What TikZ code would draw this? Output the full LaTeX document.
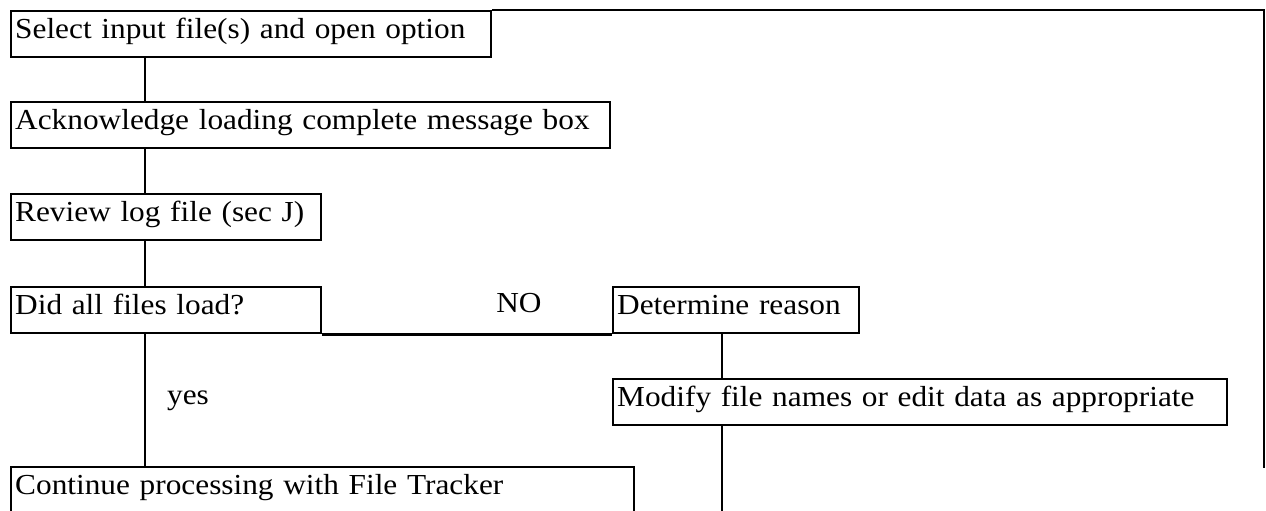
\documentclass[tikz,border=0pt]{standalone}
\usepackage{fontspec}
\setmainfont[FakeStretch=1.08]{Liberation Serif}
\begin{document}
\begin{tikzpicture}[x=0.5pt,y=-0.5pt,
  line width=1.2pt,
  every node/.style={font=\fontsize{14.5pt}{17pt}\selectfont},
  stepbox/.style={draw, line width=1.2pt, anchor=north west, inner xsep=2pt,
    inner ysep=0pt, text height=13.5pt, text depth=9.5pt, align=left},
  lbl/.style={anchor=base, inner sep=0pt}]
\useasboundingbox (0,0) rectangle (1266,510);
\clip (0,0) rectangle (1266,510);

% process boxes
\node[stepbox, text width=480pt/2-4pt] (sel)  at (10,10)  {Select input file(s) and open option};
\node[stepbox, text width=599pt/2-4pt] (ack)  at (10,101) {Acknowledge loading complete message box};
\node[stepbox, text width=310pt/2-4pt] (rev)  at (10,193) {Review log file (sec J)};
\node[stepbox, text width=310pt/2-4pt] (did)  at (10,286) {Did all files load?};
\node[stepbox, text width=246pt/2-4pt] (det)  at (612,286) {Determine reason};
\node[stepbox, text width=614pt/2-4pt] (mod)  at (612,378) {Modify file names or edit data as appropriate};
\node[stepbox, text width=623pt/2-4pt, text depth=20pt] (cont) at (10,466) {Continue processing with File Tracker};

% connector columns
\coordinate (spine) at (145,0);
\coordinate (rspine) at (722,0);
\coordinate (topright) at (1264,10);
\coordinate (loopend) at (1264,468);
\coordinate (modend) at (722,520);

% main column
\draw (sel.south -| spine) -- (ack.north -| spine);
\draw (ack.south -| spine) -- (rev.north -| spine);
\draw (rev.south -| spine) -- (did.north -| spine);
\draw (did.south -| spine) -- (cont.north -| spine);

% "no" branch
\draw (did.south east) -- (det.south west);
\draw (det.south -| rspine) -- (mod.north -| rspine);
\draw (mod.south -| rspine) -- (modend);

% return line along the top and right edge
\draw (sel.north east) -- (topright) -- (loopend);

% branch labels
\node[lbl] (no)  at (519,312) {NO};
\node[lbl] (yes) at (188,404) {yes};
\end{tikzpicture}
\end{document}
